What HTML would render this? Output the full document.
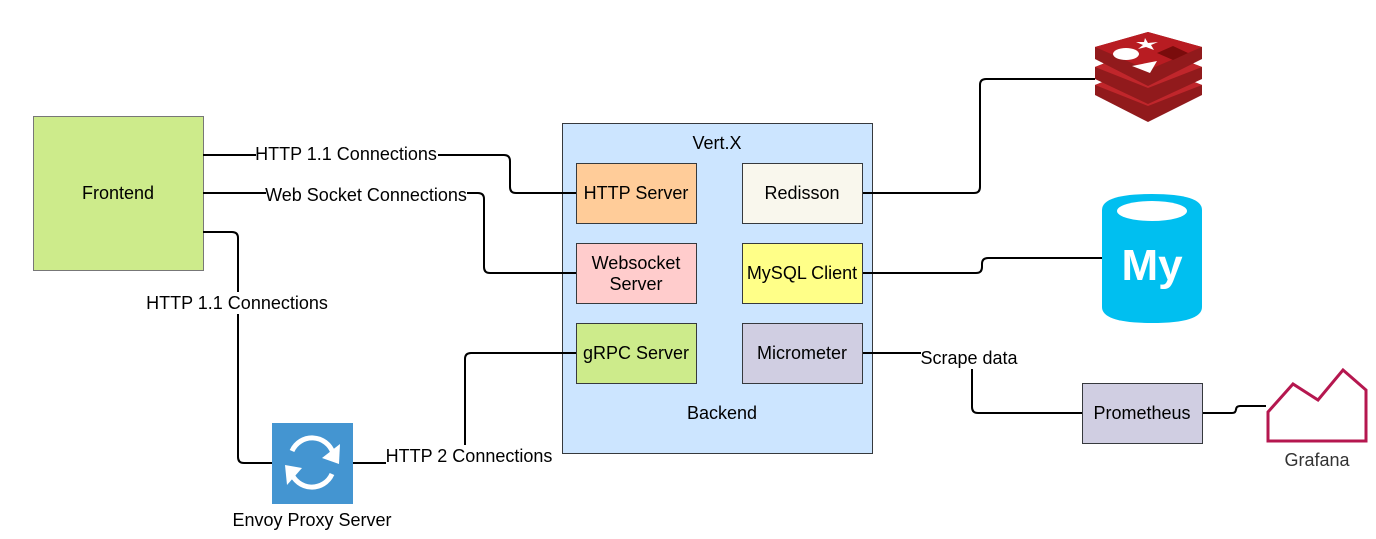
<!DOCTYPE html>
<html><head><meta charset="utf-8"><style>
html,body{margin:0;padding:0;background:#fff;width:1376px;height:539px;overflow:hidden}
svg{display:block}
text{font-family:"Liberation Sans",sans-serif;font-size:18px;fill:#000}
</style></head><body>
<svg width="1376" height="539" viewBox="0 0 1376 539">
<rect x="33.5" y="116.5" width="170" height="154" fill="#cdeb8b" stroke="#777"/>
<text x="118" y="199" text-anchor="middle">Frontend</text>
<rect x="562.5" y="123.5" width="310" height="330" fill="#cce5ff" stroke="#36393d"/>
<text x="717" y="149" text-anchor="middle">Vert.X</text>
<text x="722" y="419" text-anchor="middle">Backend</text>
<g fill="none" stroke="#000" stroke-width="2">
<path d="M203 155H504Q510 155 510 161V187Q510 193 516 193H576"/>
<path d="M203 193H478Q484 193 484 199V267Q484 273 490 273H576"/>
<path d="M203 232H232Q238 232 238 238V457Q238 463 244 463H272"/>
<path d="M352 463H465V359Q465 353 471 353H576"/>
<path d="M862 193H974Q980 193 980 187V85Q980 79 986 79H1095"/>
<path d="M862 273H976Q982 273 982 267V264Q982 258 988 258H1102"/>
<path d="M862 353H966Q972 353 972 359V407Q972 413 978 413H1082"/>
<path d="M1202 413H1232Q1236 413 1236 409V410Q1236 406 1240 406H1266"/>
</g>
<g stroke="#36393d">
<rect x="576.5" y="163.5" width="120" height="60" fill="#ffcc99"/>
<rect x="576.5" y="243.5" width="120" height="60" fill="#ffcccc"/>
<rect x="576.5" y="323.5" width="120" height="60" fill="#cdeb8b"/>
<rect x="742.5" y="163.5" width="120" height="60" fill="#f9f7ed"/>
<rect x="742.5" y="243.5" width="120" height="60" fill="#ffff88"/>
<rect x="742.5" y="323.5" width="120" height="60" fill="#d0cee2"/>
<rect x="1082.5" y="383.5" width="120" height="60" fill="#d0cee2"/>
</g>
<g text-anchor="middle">
<text x="636" y="199">HTTP Server</text>
<text x="636" y="269">Websocket</text>
<text x="636" y="290">Server</text>
<text x="636" y="359">gRPC Server</text>
<text x="802" y="199">Redisson</text>
<text x="802" y="279">MySQL Client</text>
<text x="802" y="359">Micrometer</text>
<text x="1142" y="419">Prometheus</text>
</g>
<g text-anchor="middle">
<rect x="256" y="143" width="182" height="22" fill="#fff"/>
<text x="346" y="160">HTTP 1.1 Connections</text>
<rect x="266" y="183" width="201" height="22" fill="#fff"/>
<text x="366" y="201">Web Socket Connections</text>
<rect x="146" y="292" width="183" height="22" fill="#fff"/>
<text x="237" y="309">HTTP 1.1 Connections</text>
<rect x="386" y="445" width="167" height="22" fill="#fff"/>
<text x="469" y="462">HTTP 2 Connections</text>
<rect x="921" y="347" width="97" height="22" fill="#fff"/>
<text x="969" y="364">Scrape data</text>
<text x="312" y="526">Envoy Proxy Server</text>
<text x="1317" y="466" style="fill:#333">Grafana</text>
</g>
<!-- envoy -->
<rect x="272" y="423" width="81" height="81" fill="#4495d1"/>
<g fill="none" stroke="#fff" stroke-width="5">
<path d="M292 451A22 22 0 0 1 333 453"/>
<path d="M332 474A22 22 0 0 1 291 472"/>
</g>
<polygon points="322,458 340,444 339,464" fill="#fff"/>
<polygon points="302,468 285,465 287,485" fill="#fff"/>
<!-- grafana -->
<polygon points="1268,441 1268,412 1293,384 1318,400 1343,370 1366,390 1366,441" fill="none" stroke="#b5174f" stroke-width="3"/>
<!-- redis -->
<g>
<path d="M1095 85L1148 64L1202 85V95L1148 122L1095 95Z" fill="#911a1c"/>
<path d="M1095 85L1148 106L1202 85L1148 64Z" fill="#c0262b"/>
<path d="M1095 67L1148 46L1202 67V79L1148 104L1095 79Z" fill="#911a1c"/>
<path d="M1095 67L1148 88L1202 67L1148 46Z" fill="#c0262b"/>
<path d="M1095 47L1148 32L1202 47V59L1148 86L1095 59Z" fill="#911a1c"/>
<path d="M1095 47L1148 70L1202 47L1148 32Z" fill="#b81c22"/>
<ellipse cx="1126" cy="54" rx="13" ry="6" fill="#fff"/>
<polygon points="1132,66 1157,61 1150,73" fill="#fff"/>
<polygon points="1157,53 1173,46 1188,53 1173,60" fill="#7a0c0c"/>
<polygon points="1145,38 1148,43 1158,42 1151,45 1154,50 1146,47 1138,49 1143,45 1136,42 1144,42" fill="#fff"/>
</g>
<!-- mysql -->
<path d="M1102 210Q1102 194 1152 194Q1202 194 1202 210V307Q1202 323 1152 323Q1102 323 1102 307Z" fill="#00bff0"/>
<ellipse cx="1152" cy="211" rx="35" ry="10" fill="#fff"/>
<text x="1152" y="280" text-anchor="middle" style="font-size:44px;font-weight:bold;fill:#fff">My</text>
</svg>
</body></html>
